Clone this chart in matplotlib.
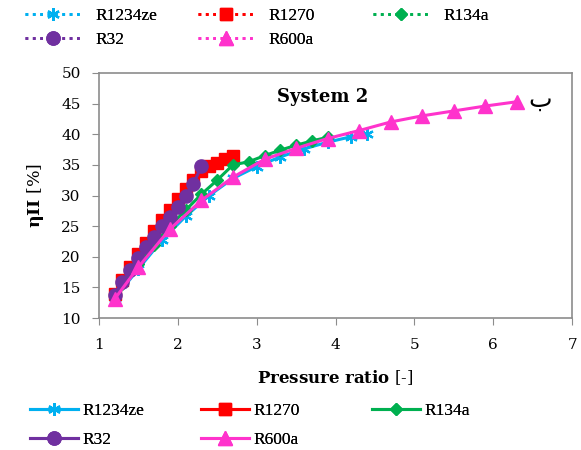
import matplotlib

matplotlib.use("Agg")
import matplotlib.pyplot as plt
from matplotlib.lines import Line2D

plt.rcParams["font.family"] = ["Liberation Serif", "DejaVu Sans"]
plt.rcParams["mathtext.fontset"] = "custom"
plt.rcParams["mathtext.rm"] = "DejaVu Serif"
plt.rcParams["mathtext.bf"] = "DejaVu Serif:bold"

# data
r1234ze_x = [1.2, 1.5, 1.8, 2.1, 2.4, 2.7, 3.0, 3.3, 3.6, 3.9, 4.2, 4.4]
r1234ze_y = [13.2, 18.0, 22.7, 26.6, 30.0, 32.8, 34.7, 36.3, 37.6, 38.7, 39.6, 40.1]

r1270_x = [1.2, 1.3, 1.4, 1.5, 1.6, 1.7, 1.8, 1.9, 2.0, 2.1, 2.2, 2.3, 2.4, 2.5, 2.6, 2.7]
r1270_y = [14.0, 16.3, 18.4, 20.4, 22.3, 24.2, 26.0, 27.7, 29.4, 31.0, 32.6, 34.0, 34.8, 35.3, 35.9, 36.4]

r134a_x = [1.2, 1.3, 1.5, 1.7, 1.9, 2.1, 2.3, 2.5, 2.7, 2.9, 3.1, 3.3, 3.5, 3.7, 3.9]
r134a_y = [13.5, 15.5, 18.8, 22.0, 25.0, 27.6, 30.2, 32.5, 35.0, 35.5, 36.5, 37.4, 38.2, 38.9, 39.5]

r32_x = [1.2, 1.3, 1.4, 1.5, 1.6, 1.7, 1.8, 1.9, 2.0, 2.1, 2.2, 2.3]
r32_y = [13.8, 15.9, 17.8, 19.8, 21.6, 23.2, 25.0, 26.5, 28.1, 29.9, 31.9, 34.8]

r600a_x = [1.2, 1.5, 1.9, 2.3, 2.7, 3.1, 3.5, 3.9, 4.3, 4.7, 5.1, 5.5, 5.9, 6.3]
r600a_y = [13.1, 18.3, 24.5, 29.2, 33.0, 35.9, 37.7, 39.3, 40.6, 42.0, 43.0, 43.8, 44.6, 45.3]

labels = ["R1234ze", "R1270", "R134a", "R32", "R600a"]
colors = ["#00B0F0", "#FF0000", "#00B050", "#7030A0", "#FF33CC"]
markers = [(6, 2, 0), "s", "D", "o", "^"]
marker_sizes = [9, 9, 6.5, 9.5, 9.5]

series = [
    (r1234ze_x, r1234ze_y),
    (r1270_x, r1270_y),
    (r134a_x, r134a_y),
    (r32_x, r32_y),
    (r600a_x, r600a_y),
]

fig = plt.figure(figsize=(5.81, 4.5), dpi=100)
ax = fig.add_axes([0.170, 0.293, 0.815, 0.545])

for (xs, ys), label, color, marker, ms in zip(series, labels, colors, markers, marker_sizes):
    ax.plot(xs, ys, color=color, marker=marker, markersize=ms, linewidth=2.2,
            markeredgewidth=1.6 if marker == markers[0] else 1, label=label)

ax.set_xlim(1, 7)
ax.set_ylim(10, 50)
ax.set_xticks(range(1, 8))
ax.set_yticks(range(10, 55, 5))
for spine in ax.spines.values():
    spine.set_color("#8c8c8c")
    spine.set_linewidth(1.2)
ax.tick_params(direction="out", length=5, color="#8c8c8c", labelsize=11)
ax.tick_params(axis="x", pad=9)
ax.tick_params(axis="y", pad=8)
for tick in ax.get_xticklabels() + ax.get_yticklabels():
    tick.set_family("DejaVu Serif")

ax.set_xlabel(r"$\mathbf{Pressure}$ $\mathbf{ratio}$ [-]", fontsize=12, labelpad=12,
              family="DejaVu Serif")
ax.set_ylabel(r"$\mathbf{\eta II}$ [%]", fontsize=12.5, labelpad=11, family="DejaVu Serif")

ax.text(0.472, 0.90, "System 2", transform=ax.transAxes, ha="center", va="center",
        fontsize=13, fontweight="bold", family="DejaVu Serif")
ax.text(0.932, 0.89, "ب", transform=ax.transAxes, ha="center", va="center",
        fontsize=18, family=["DejaVu Sans"])


def column_legend(idx, x, y, linestyle, handlelength, textpad, spacing):
    handles = [Line2D([], [], color=colors[i], marker=markers[i], markersize=marker_sizes[i],
                      linestyle=linestyle, linewidth=2.2 if linestyle == "-" else 2,
                      markeredgewidth=1.6 if i == 0 else 1) for i in idx]
    leg = fig.legend(handles, [labels[i] for i in idx], loc="upper left",
                     bbox_to_anchor=(x, y), frameon=False, fontsize=12.5,
                     handlelength=handlelength, handletextpad=textpad,
                     labelspacing=spacing, borderaxespad=0, borderpad=0)
    fig.add_artist(leg)


# top legend (dotted), row by row like the reference
top_x = [25 / 581, 198 / 581, 373 / 581]
for col, idx in enumerate([[0, 3], [1, 4], [2]]):
    column_legend(idx, top_x[col], 1 - 8 / 450, ":", 3.2, 0.85, 0.45)

# bottom legend (solid)
bot_x = [30 / 581, 201 / 581, 372 / 581]
for col, idx in enumerate([[0, 3], [1, 4], [2]]):
    column_legend(idx, bot_x[col], 1 - 403 / 450, "-", 2.75, 0.3, 0.75)

fig.savefig("out.png", dpi=100)
